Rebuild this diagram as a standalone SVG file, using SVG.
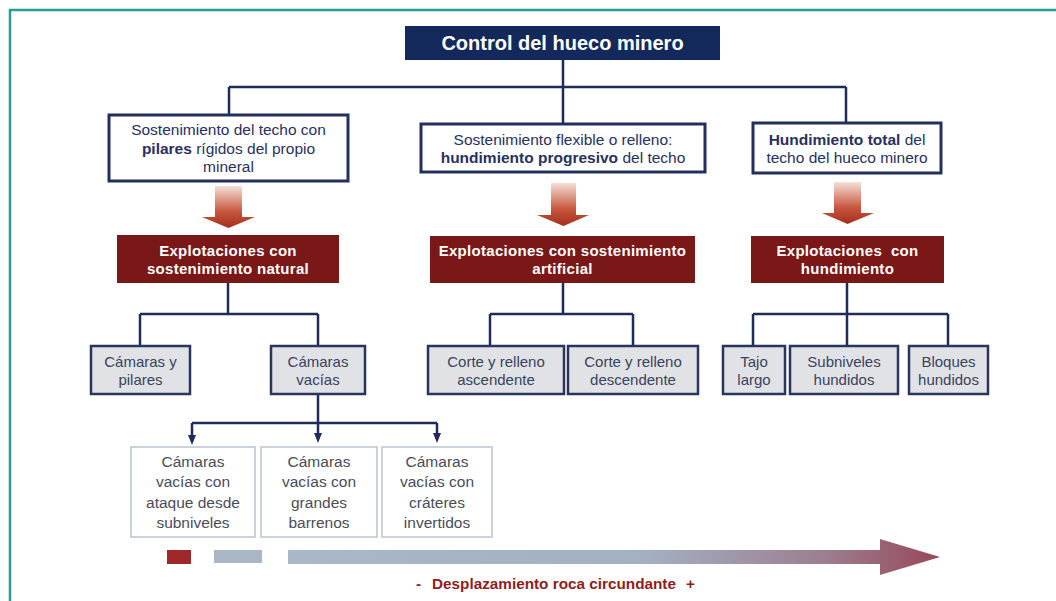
<svg xmlns="http://www.w3.org/2000/svg" width="1056" height="601" viewBox="0 0 1056 601">
<defs>
<style>
.conn{stroke:#1f2b5b;stroke-width:2.5;fill:none}
.wbox{fill:#fff;stroke:#23305e;stroke-width:3}
.rbox{fill:#7a1717}
.gbox{fill:#e1e2e5;stroke:#2a355f;stroke-width:2.5}
.lbox{fill:#fff;stroke:#b9c3cf;stroke-width:1.5}
.t{font-family:"Liberation Sans",Arial,sans-serif;text-anchor:middle}
.tw{font-size:15.5px;fill:#283060}
.tr{font-size:15px;font-weight:bold;fill:#fff;letter-spacing:0.3px}
.tg{font-size:15px;fill:#39425e}
.tl{font-size:15.5px;fill:#4a4c58}
.b{font-weight:bold}
.down{fill:url(#gDown)}
</style>
<linearGradient id="gDown" x1="0" y1="0" x2="0" y2="1">
<stop offset="0" stop-color="#f4e0d8"/>
<stop offset="0.6" stop-color="#c8583e"/>
<stop offset="1" stop-color="#a22e1c"/>
</linearGradient>
<linearGradient id="gBar" x1="288" y1="0" x2="940" y2="0" gradientUnits="userSpaceOnUse">
<stop offset="0" stop-color="#a9b7c8"/>
<stop offset="0.55" stop-color="#a3b0c2"/>
<stop offset="0.82" stop-color="#9c7f90"/>
<stop offset="1" stop-color="#98485a"/>
</linearGradient>
<marker id="ah" markerWidth="10" markerHeight="10" refX="5" refY="5" orient="auto" markerUnits="userSpaceOnUse">
<path d="M0,1 L10,5 L0,9 Z" fill="#1f2b5b"/>
</marker>
</defs>
<rect width="1056" height="601" fill="#fff"/>
<path d="M10 601 V10 H1056" fill="none" stroke="#2a9d92" stroke-width="2.5"/>

<g id="connectors">
<path class="conn" d="M563 60 V87 M229 87 H846 M229 87 V115 M563 87 V124 M846 87 V123"/>
<path class="conn" d="M228 283 V314 M140 314 H318 M140 314 V346 M318 314 V346"/>
<path class="conn" d="M563 283 V314 M490 314 H633 M490 314 V346 M633 314 V346"/>
<path class="conn" d="M847 283 V314 M753 314 H948 M753 314 V346 M847 314 V346 M948 314 V346"/>
<path class="conn" d="M318 395 V423 M192 423 H437"/>
<path class="conn" d="M192 423 V440" marker-end="url(#ah)"/>
<path class="conn" d="M318 423 V438" marker-end="url(#ah)"/>
<path class="conn" d="M437 423 V438" marker-end="url(#ah)"/>
</g>

<g id="title">
<rect x="405" y="26" width="315" height="34" fill="#13295b"/>
<text class="t b" x="562.5" y="50" font-size="20" fill="#fff">Control del hueco minero</text>
</g>

<g id="box1">
<rect class="wbox" x="109" y="115" width="239" height="66"/>
<text class="t tw" x="228.5" y="135">Sostenimiento del techo con</text>
<text class="t tw" x="228.5" y="153.5"><tspan class="b">pilares</tspan> rígidos del propio</text>
<text class="t tw" x="228.5" y="172">mineral</text>
</g>
<g id="box2">
<rect class="wbox" x="421" y="124" width="284" height="48"/>
<text class="t tw" x="563" y="144.5">Sostenimiento flexible o relleno:</text>
<text class="t tw" x="563" y="162.5"><tspan class="b">hundimiento progresivo</tspan> del techo</text>
</g>
<g id="box3">
<rect class="wbox" x="753" y="123" width="188" height="50"/>
<text class="t tw" x="847" y="144.5"><tspan class="b">Hundimiento total</tspan> del</text>
<text class="t tw" x="847" y="162.5">techo del hueco minero</text>
</g>

<g id="arrow1"><path class="down" d="M215 186 H242 V217 H255 L228.5 228 L202 217 H215 Z"/></g>
<g id="arrow2"><path class="down" d="M551 183 H576 V215 H589 L563.5 226 L537 215 H551 Z"/></g>
<g id="arrow3"><path class="down" d="M834 182 H861 V213 H874 L847.5 224 L822 213 H834 Z"/></g>

<g id="red1">
<rect class="rbox" x="117" y="235" width="222" height="48"/>
<text class="t tr" x="228" y="255.5">Explotaciones con</text>
<text class="t tr" x="228" y="273.5">sostenimiento natural</text>
</g>
<g id="red2">
<rect class="rbox" x="430" y="236" width="265" height="47"/>
<text class="t tr" x="562.5" y="255.5">Explotaciones con sostenimiento</text>
<text class="t tr" x="562.5" y="273.5">artificial</text>
</g>
<g id="red3">
<rect class="rbox" x="751" y="236" width="193" height="47"/>
<text class="t tr" x="847.5" y="255.5" xml:space="preserve">Explotaciones  con</text>
<text class="t tr" x="847.5" y="273.5">hundimiento</text>
</g>

<g id="g1"><rect class="gbox" x="91" y="346" width="99" height="48"/>
<text class="t tg" x="140.5" y="366.5">Cámaras y</text><text class="t tg" x="140.5" y="384.5">pilares</text></g>
<g id="g2"><rect class="gbox" x="271" y="346" width="94" height="48"/>
<text class="t tg" x="318" y="366.5">Cámaras</text><text class="t tg" x="318" y="384.5">vacías</text></g>
<g id="g3"><rect class="gbox" x="428" y="346" width="136" height="48"/>
<text class="t tg" x="496" y="366.5">Corte y relleno</text><text class="t tg" x="496" y="384.5">ascendente</text></g>
<g id="g4"><rect class="gbox" x="568" y="346" width="130" height="48"/>
<text class="t tg" x="633" y="366.5">Corte y relleno</text><text class="t tg" x="633" y="384.5">descendente</text></g>
<g id="g5"><rect class="gbox" x="723" y="346" width="62" height="48"/>
<text class="t tg" x="754" y="366.5">Tajo</text><text class="t tg" x="754" y="384.5">largo</text></g>
<g id="g6"><rect class="gbox" x="790" y="346" width="108" height="48"/>
<text class="t tg" x="844" y="366.5">Subniveles</text><text class="t tg" x="844" y="384.5">hundidos</text></g>
<g id="g7"><rect class="gbox" x="909" y="346" width="79" height="48"/>
<text class="t tg" x="948.5" y="366.5">Bloques</text><text class="t tg" x="948.5" y="384.5">hundidos</text></g>

<g id="b1"><rect class="lbox" x="131" y="447" width="124" height="90"/>
<text class="t tl" x="193" y="466.8">Cámaras</text><text class="t tl" x="193" y="487.3">vacías con</text>
<text class="t tl" x="193" y="507.8">ataque desde</text><text class="t tl" x="193" y="528.3">subniveles</text></g>
<g id="b2"><rect class="lbox" x="261" y="447" width="116" height="90"/>
<text class="t tl" x="319" y="466.8">Cámaras</text><text class="t tl" x="319" y="487.3">vacías con</text>
<text class="t tl" x="319" y="507.8">grandes</text><text class="t tl" x="319" y="528.3">barrenos</text></g>
<g id="b3"><rect class="lbox" x="382" y="447" width="110" height="90"/>
<text class="t tl" x="437" y="466.8">Cámaras</text><text class="t tl" x="437" y="487.3">vacías con</text>
<text class="t tl" x="437" y="507.8">cráteres</text><text class="t tl" x="437" y="528.3">invertidos</text></g>

<g id="scale">
<rect x="167" y="550" width="24" height="14" fill="#a12828"/>
<rect x="214" y="550" width="48" height="13" fill="#a9b6c6"/>
<path d="M288 550 H880 V539 L940 557 L880 575 V564 H288 Z" fill="url(#gBar)"/>
<text x="416" y="589" font-family="'Liberation Sans',Arial,sans-serif" font-weight="bold" font-size="15.3" fill="#8e1e1e">-<tspan x="432">Desplazamiento roca circundante</tspan><tspan x="686">+</tspan></text>
</g>
</svg>
